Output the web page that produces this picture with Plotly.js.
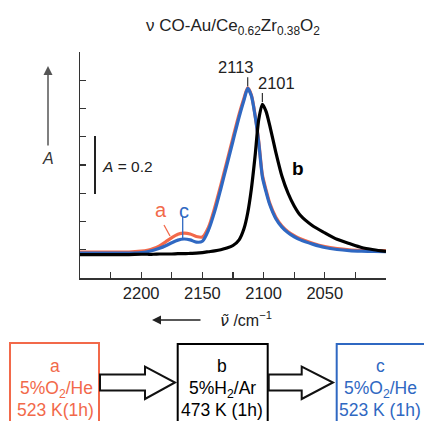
<!DOCTYPE html>
<html>
<head>
<meta charset="utf-8">
<script src="https://cdn.plot.ly/plotly-3.0.1.min.js"></script>
<style>html,body{margin:0;padding:0;background:#fff;}#chart{width:424px;height:421px;}</style>
</head>
<body>
<div id="chart"></div>
<script>
// wavenumber grid (cm^-1)
const wavenumber = [2250, 2230, 2210, 2200, 2195, 2190, 2185, 2180, 2175, 2170, 2165, 2160, 2155, 2150, 2145, 2140, 2135, 2130, 2125, 2120, 2116, 2113, 2110, 2107, 2104, 2101, 2098, 2095, 2090, 2085, 2080, 2075, 2070, 2060, 2050, 2040, 2030, 2020, 2010, 2000];
// a: 5%O2/He 523 K
const absA = [-0.008, -0.008, -0.008, -0.005, -0.002, 0.004, 0.014, 0.028, 0.043, 0.055, 0.059, 0.056, 0.047, 0.045, 0.080, 0.148, 0.228, 0.312, 0.397, 0.480, 0.537, 0.573, 0.548, 0.478, 0.385, 0.265, 0.212, 0.165, 0.115, 0.084, 0.064, 0.050, 0.039, 0.023, 0.011, 0.004, 0.000, -0.002, -0.003, -0.004];
// b: 5%H2/Ar 473 K
const absB = [-0.017, -0.017, -0.017, -0.016, -0.016, -0.016, -0.015, -0.015, -0.015, -0.014, -0.014, -0.013, -0.012, -0.010, -0.007, -0.004, 0.000, 0.006, 0.015, 0.035, 0.075, 0.130, 0.215, 0.330, 0.460, 0.515, 0.490, 0.440, 0.345, 0.260, 0.200, 0.155, 0.122, 0.085, 0.060, 0.037, 0.022, 0.008, 0.000, -0.006];
// c: 5%O2/He 523 K (after reduction)
const absC = [-0.012, -0.012, -0.012, -0.010, -0.007, -0.002, 0.005, 0.014, 0.025, 0.034, 0.038, 0.035, 0.027, 0.030, 0.070, 0.135, 0.215, 0.300, 0.385, 0.470, 0.530, 0.571, 0.545, 0.475, 0.380, 0.258, 0.205, 0.160, 0.110, 0.080, 0.060, 0.046, 0.035, 0.020, 0.008, 0.001, -0.003, -0.005, -0.006, -0.007];

const xTickVals = [2225, 2200, 2175, 2150, 2125, 2100, 2075, 2050, 2025];
const xTickText = ['', '2200', '', '2150', '', '2100', '', '2050', ''];
const yTickVals = [0, 0.1, 0.2, 0.3, 0.4, 0.5, 0.6];
const peakLabels = ['2113', '2101'];
const peakPos = [2113, 2101];

const RED = '#f2694a', BLUE = '#2f68c2', BLACK = '#000000';
const FONT = 'Arial, "Liberation Sans", Helvetica, sans-serif';

// plot-area pixel frame
const L = 80, R = 386, T = 52, B = 278;
const px = x => (x - L) / (R - L);
const py = y => (B - y) / (B - T);

function tr(y, color, name) {
  return {x: wavenumber, y: y, type: 'scatter', mode: 'lines', name: name,
    line: {color: color, width: 3.2, shape: 'spline', smoothing: 0.7}, hoverinfo: 'skip'};
}
const data = [tr(absA, RED, 'a'), tr(absC, BLUE, 'c'), tr(absB, BLACK, 'b')];

const shapes = [];
const annotations = [];
function txt(x, y, text, size, color, extra) {
  annotations.push(Object.assign({xref: 'paper', yref: 'paper', x: px(x), y: py(y), text: text,
    showarrow: false, xanchor: 'center', yanchor: 'middle',
    font: {family: FONT, size: size, color: color}}, extra || {}));
}
function line(x0, y0, x1, y1, color, w) {
  shapes.push({type: 'line', xref: 'paper', yref: 'paper', x0: px(x0), y0: py(y0), x1: px(x1), y1: py(y1),
    line: {color: color, width: w}});
}

// peak labels with small ticks (data coordinates)
const peakIdx = peakPos.map(p => wavenumber.indexOf(p));
const peakY = [absC[peakIdx[0]], absB[peakIdx[1]]];
const xshifts = [-12.5, 14.5];
peakPos.forEach((p, i) => {
  shapes.push({type: 'line', xref: 'x', yref: 'y', x0: p, x1: p, y0: peakY[i] + 0.008, y1: peakY[i] + 0.040,
    line: {color: '#333', width: 1.2}});
  annotations.push({xref: 'x', yref: 'y', x: p, y: peakY[i] + 0.077, text: peakLabels[i], showarrow: false,
    xshift: xshifts[i], xanchor: 'center', yanchor: 'middle', font: {family: FONT, size: 16.5, color: '#222'}});
});

// curve labels
txt(161, 210, 'a', 20, RED);
txt(184, 211, 'c', 20, BLUE);
txt(298, 168, '<b>b</b>', 19, BLACK);
line(164, 225, 170, 236, RED, 1.3);
line(182.7, 217, 182.7, 238, BLUE, 1.3);

// scale bar
line(95, 136, 95, 194, '#222', 2);
txt(100, 166.5, '<i>A</i> = 0.2', 15.5, '#222', {xanchor: 'left'});

// y-arrow with A
annotations.push({xref: 'paper', yref: 'paper', x: px(48), y: py(66), ax: 0, ay: 81, axref: 'pixel', ayref: 'pixel',
  text: '', showarrow: true, arrowhead: 2, arrowsize: 1.2, arrowwidth: 1.5, arrowcolor: '#555'});
txt(48, 158, '<i>A</i>', 16, '#333');

// x-arrow and x title
annotations.push({xref: 'paper', yref: 'paper', x: px(152), y: py(320), ax: 50, ay: 0, axref: 'pixel', ayref: 'pixel',
  text: '', showarrow: true, arrowhead: 2, arrowsize: 1.2, arrowwidth: 1.5, arrowcolor: '#222'});
txt(218, 319, '<span style="font-family:DejaVu Sans;font-style:italic">\u03bd\u0303</span> /cm<sup>−1</sup>', 16, '#222', {xanchor: 'left'});

// process boxes
function rect(x0, y0, x1, y1, color) {
  shapes.push({type: 'rect', xref: 'paper', yref: 'paper', x0: px(x0), y0: py(y0), x1: px(x1), y1: py(y1),
    line: {color: color, width: 2}, fillcolor: 'rgba(0,0,0,0)'});
}
rect(10, 343, 99, 430, RED);
rect(177.7, 344, 267.7, 430, BLACK);
rect(336.7, 344, 430, 430, BLUE);

txt(55, 366, 'a', 17.5, RED);
txt(56, 389, '5%O<sub>2</sub>/He', 17.5, RED);
txt(55, 410, '523 K(1h)', 17.5, RED);
txt(222, 366, 'b', 17.5, BLACK);
txt(222, 389, '5%H<sub>2</sub>/Ar', 17.5, BLACK);
txt(222, 410, '473 K (1h)', 17.5, BLACK);
txt(380, 366, 'c', 17.5, BLUE);
txt(380, 389, '5%O<sub>2</sub>/He', 17.5, BLUE);
txt(380, 410, '523 K (1h)', 17.5, BLUE);

// hollow block arrows
function blockArrow(x0, xh, xt) {
  const pts = [[x0, 374.5], [xh, 374.5], [xh, 366.7], [xt, 382.5], [xh, 399], [xh, 390.5], [x0, 390.5]];
  const p = 'M ' + pts.map(q => px(q[0]).toFixed(5) + ',' + py(q[1]).toFixed(5)).join(' L ') + ' Z';
  shapes.push({type: 'path', xref: 'paper', yref: 'paper', path: p, line: {color: '#111', width: 2}, fillcolor: '#fff'});
}
blockArrow(100, 145, 175);
blockArrow(268.7, 301.7, 333);

const layout = {
  width: 424, height: 421,
  margin: {l: L, r: 424 - R, t: T, b: 421 - B, pad: 0},
  paper_bgcolor: '#fff', plot_bgcolor: '#fff',
  showlegend: false,
  font: {family: FONT, color: '#222'},
  title: {text: 'ν CO-Au/Ce<sub>0.62</sub>Zr<sub>0.38</sub>O<sub>2</sub>', x: 233 / 424, xanchor: 'center',
    xref: 'container', yref: 'container', y: 1 - 25 / 421, yanchor: 'middle',
    font: {family: FONT, size: 17, color: '#222'}},
  xaxis: {range: [2250, 2000], showgrid: false, zeroline: false, showline: true, linecolor: '#333', linewidth: 1.5,
    ticks: 'inside', ticklen: 6, tickwidth: 1.2, tickcolor: '#333', tickmode: 'array', tickvals: xTickVals, ticktext: xTickText,
    tickfont: {family: FONT, size: 16.5, color: '#222'}, fixedrange: true},
  yaxis: {range: [-0.1, 0.7], showgrid: false, zeroline: false, showline: true, linecolor: '#333', linewidth: 1.5,
    ticks: 'inside', ticklen: 6, tickwidth: 1.2, tickcolor: '#333', tickmode: 'array', tickvals: yTickVals,
    showticklabels: false, fixedrange: true},
  shapes: shapes,
  annotations: annotations
};
Plotly.newPlot('chart', data, layout, {displayModeBar: false, staticPlot: true});
</script>
</body>
</html>
